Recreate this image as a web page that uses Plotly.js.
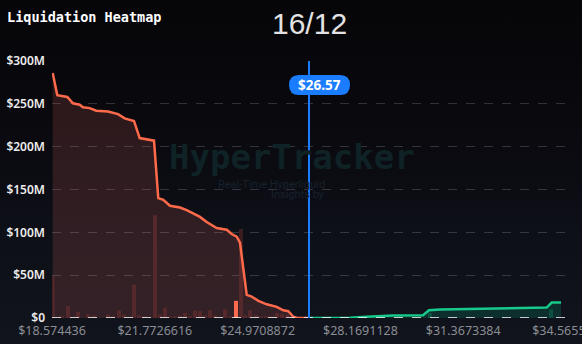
<!DOCTYPE html>
<html>
<head>
<meta charset="utf-8">
<script src="https://cdn.plot.ly/plotly-3.0.1.min.js"></script>
<style>
  html, body { margin: 0; padding: 0; width: 582px; height: 344px; overflow: hidden;
    background: linear-gradient(to bottom, #060609 0%, #09090e 35%, #0e1018 70%, #11141c 100%); }
  #chart { width: 582px; height: 344px; }
</style>
</head>
<body>
<div id="chart"></div>
<script>
// ---- data (values in $M, prices in $) ----
const currentPrice = 26.57;
const dateLabel = '16/12';
const chartTitle = 'Liquidation Heatmap';

const longPrice = [18.596, 18.739, 19.050, 19.228, 19.436, 19.539, 19.747, 19.953, 20.317, 20.628,
  20.836, 21.125, 21.303, 21.748, 21.881, 22.037, 22.246, 22.557, 22.765, 22.971,
  23.179, 23.387, 23.698, 24.010, 24.165, 24.321, 24.423, 24.632, 24.787, 24.993,
  25.254, 25.565, 25.771, 25.926, 26.081, 26.187, 26.57];
const longCum = [286, 260, 258, 250.6, 249, 246, 245, 242, 241, 238,
  233, 230, 210, 207, 140, 138, 131, 129, 126, 122,
  118, 112, 105, 103, 98, 95, 88, 27, 25, 20,
  16, 13, 9, 8, 1.5, 0.3, 0];

const shortPrice = [26.57, 27.845, 28.365, 29.183, 30.117, 30.303, 30.645, 31.890, 32.294, 33.965, 34.121, 34.410];
const shortCum = [0, 0.3, 1.5, 3, 3.2, 9, 10, 10.8, 11.3, 12.2, 18, 18];

const longBarPrice = [18.590, 18.886, 19.072, 19.383, 19.694, 19.881, 20.317, 20.472, 20.659, 20.814,
  21.126, 21.281, 21.437, 21.779, 21.934, 22.090, 22.246, 22.401, 22.557, 22.712,
  22.868, 23.023, 23.179, 23.334, 23.490, 23.646, 23.801, 23.957, 24.112, 24.299,
  24.454, 24.579, 24.734, 24.921, 25.077, 25.232, 25.419, 25.574, 25.730, 25.885, 26.010];
const longBarValue = [49, 2, 14, 7, 4.5, 3, 4, 2, 9, 4,
  39, 3, 2, 120, 4, 12, 2, 2, 3, 6,
  2, 9, 8, 3, 9, 3, 1, 10, 2, 20,
  104, 3, 9, 4, 2, 2, 2, 6, 5, 4, 1];
const highlightIndex = 29;

const shortBarPrice = [28.60, 29.40, 30.334, 31.20, 32.60, 34.099];
const shortBarValue = [0.8, 1.2, 6, 0.8, 0.6, 10];

const xTicks = [18.574436, 21.7726616, 24.9708872, 28.1691128, 31.3673384, 34.565564];
const xTickText = ['$18.574436', '$21.7726616', '$24.9708872', '$28.1691128', '$31.3673384', '$34.565564'];
const yTicks = [0, 50, 100, 150, 200, 250, 300];
const yTickText = ['$0', '$50M', '$100M', '$150M', '$200M', '$250M', '$300M'];

// ---- styles ----
const RED = '#ff6b4a';
const GREEN = '#17c98a';
const BLUE = '#1a7dff';

const traces = [
  {
    type: 'bar', x: longBarPrice, y: longBarValue, width: 0.125,
    marker: { color: longBarValue.map((v, i) => i === highlightIndex ? RED : '#381c20'), line: { width: 0 } },
    hoverinfo: 'skip', showlegend: false
  },
  {
    type: 'bar', x: shortBarPrice, y: shortBarValue, width: 0.125,
    marker: { color: '#0f3a33', line: { width: 0 } },
    hoverinfo: 'skip', showlegend: false
  },
  {
    type: 'scatter', mode: 'lines', x: longPrice, y: longCum,
    fill: 'tozeroy', fillcolor: 'rgba(236,110,104,0.16)',
    line: { color: RED, width: 2.5 }, hoverinfo: 'skip', showlegend: false
  },
  {
    type: 'scatter', mode: 'lines', x: shortPrice, y: shortCum,
    fill: 'tozeroy', fillcolor: 'rgba(0,200,140,0.16)',
    line: { color: GREEN, width: 2.5 }, hoverinfo: 'skip', showlegend: false
  }
];

const layout = {
  width: 582, height: 344,
  margin: { l: 52, r: 16, t: 61, b: 26, pad: 0 },
  paper_bgcolor: 'rgba(0,0,0,0)',
  plot_bgcolor: 'rgba(0,0,0,0)',
  barmode: 'overlay',
  showlegend: false,
  xaxis: {
    range: [xTicks[0], xTicks[xTicks.length - 1]],
    tickmode: 'array', tickvals: xTicks, ticktext: xTickText,
    showgrid: false, zeroline: false, showline: false, ticks: '',
    ticklabeloverflow: 'allow', ticklabelstandoff: 3,
    tickfont: { family: 'Noto Sans, sans-serif', size: 12.5, color: '#8a8d94' }
  },
  yaxis: {
    range: [0, 300],
    tickmode: 'array', tickvals: yTicks, ticktext: yTickText,
    showgrid: true, gridcolor: 'rgba(255,255,255,0.17)', griddash: 'dash', gridwidth: 1,
    zeroline: false, showline: false, ticks: '',
    ticklabelstandoff: 6,
    tickfont: { family: 'Noto Sans, sans-serif', size: 12, color: '#ececec', weight: 600 }
  },
  shapes: [
    { type: 'line', xref: 'paper', yref: 'y', x0: 0, x1: 1, y0: 0, y1: 0,
      line: { color: '#ffffff', width: 1.5, dash: 'dash' }, layer: 'above' },
    { type: 'line', xref: 'x', yref: 'paper', x0: currentPrice, x1: currentPrice, y0: 0, y1: 1,
      line: { color: BLUE, width: 2 }, layer: 'above' },
    { type: 'path', xref: 'x', yref: 'paper', xsizemode: 'pixel', ysizemode: 'pixel',
      xanchor: currentPrice, yanchor: 0.907,
      path: 'M -10,-10 L 31,-10 Q 41,-10 41,0 Q 41,10 31,10 L -10,10 Q -20,10 -20,0 Q -20,-10 -10,-10 Z',
      fillcolor: BLUE, line: { width: 0 }, layer: 'above' }
  ],
  annotations: [
    { text: 'HyperTracker', xref: 'paper', yref: 'paper', x: 0.466, y: 0.625,
      xanchor: 'center', yanchor: 'middle', showarrow: false,
      font: { family: 'DejaVu Sans Mono, monospace', size: 34, color: '#0f2226', weight: 700 } },
    { text: 'Real-Time Hyperliquid', xref: 'paper', yref: 'paper', x: (327 - 52) / 514, y: (318 - 184) / 257,
      xanchor: 'right', yanchor: 'middle', showarrow: false,
      font: { family: 'Roboto, sans-serif', size: 11, color: '#17212b' } },
    { text: 'Insights by', xref: 'paper', yref: 'paper', x: (327 - 52) / 514, y: (318 - 195) / 257,
      xanchor: 'right', yanchor: 'middle', showarrow: false,
      font: { family: 'Roboto, sans-serif', size: 11, color: '#17212b' } },
    { text: chartTitle, xref: 'paper', yref: 'paper', x: (5 - 52) / 514, y: (318 - 17) / 257,
      xanchor: 'left', yanchor: 'middle', showarrow: false,
      font: { family: 'DejaVu Sans Mono, monospace', size: 13.5, color: '#ffffff', weight: 700 } },
    { text: dateLabel, xref: 'paper', yref: 'paper', x: 0.5, y: (318 - 23) / 257,
      xanchor: 'center', yanchor: 'middle', showarrow: false,
      font: { family: 'Liberation Sans, Arial, sans-serif', size: 30, color: '#e2e2e2' } },
    { text: '$' + currentPrice.toFixed(2), xref: 'x', yref: 'paper', x: currentPrice, y: 0.907,
      xshift: 10.5, xanchor: 'center', yanchor: 'middle', showarrow: false,
      font: { family: 'Noto Sans, sans-serif', size: 13.5, color: '#ffffff', weight: 700 } }
  ]
};

Plotly.newPlot('chart', traces, layout, { displayModeBar: false, staticPlot: true });
</script>
</body>
</html>
